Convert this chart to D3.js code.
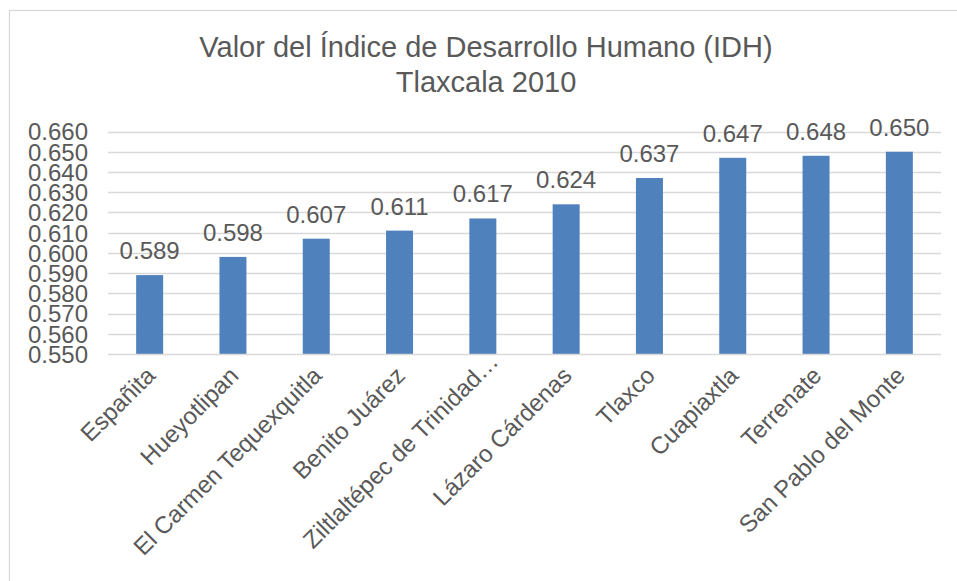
<!DOCTYPE html>
<html>
<head>
<meta charset="utf-8">
<script src="https://cdn.jsdelivr.net/npm/d3@7"></script>
<style>
    body { margin: 0; background: #ffffff; }
    svg text { font-family: Arial, "Liberation Sans", sans-serif; fill: #595959; }
</style>
</head>
<body>
<svg id="chart" width="957" height="581"></svg>
<script>

var titleLines = ['Valor del Índice de Desarrollo Humano (IDH)', 'Tlaxcala 2010'];

var municipios = [
    'Españita',
    'Hueyotlipan',
    'El Carmen Tequexquitla',
    'Benito Juárez',
    'Ziltlaltépec de Trinidad\u2026',
    'Lázaro Cárdenas',
    'Tlaxco',
    'Cuapiaxtla',
    'Terrenate',
    'San Pablo del Monte'
];

var idh = [0.589, 0.598, 0.607, 0.611, 0.617, 0.624, 0.637, 0.647, 0.648, 0.650];

var yTicks = [0.550, 0.560, 0.570, 0.580, 0.590, 0.600, 0.610, 0.620, 0.630, 0.640, 0.650, 0.660];

var margin = {left: 108, right: 16, top: 131.5, bottom: 227};
var width = 957, height = 581;

var svg = d3.select('#chart');

// chart border
svg.append('rect')
    .attr('x', 9.5)
    .attr('y', 10.5)
    .attr('width', 960)
    .attr('height', 600)
    .attr('fill', 'none')
    .attr('stroke', '#d9d9d9')
    .attr('stroke-width', 1.3);

var x = d3.scaleBand()
    .domain(municipios)
    .range([margin.left, width - margin.right])
    .paddingInner(0.676)
    .paddingOuter(0.338);

var y = d3.scaleLinear()
    .domain([0.550, 0.660])
    .range([height - margin.bottom, margin.top]);

// title
svg.append('text')
    .attr('x', 486)
    .attr('y', 57)
    .attr('text-anchor', 'middle')
    .style('font-size', '29px')
    .selectAll('tspan')
    .data(titleLines)
    .enter().append('tspan')
    .attr('x', 486)
    .attr('dy', function (d, i) { return i === 0 ? 0 : 35; })
    .text(function (d) { return d; });

// gridlines
svg.append('g')
    .selectAll('line')
    .data(yTicks.slice(1))
    .enter().append('line')
    .attr('x1', margin.left)
    .attr('x2', width - margin.right)
    .attr('y1', function (d) { return Math.round(y(d)) + 0.5; })
    .attr('y2', function (d) { return Math.round(y(d)) + 0.5; })
    .attr('stroke', '#d9d9d9')
    .attr('stroke-width', 1.3);

// y axis labels
var yAxis = svg.append('g')
    .attr('transform', 'translate(' + (margin.left - 20) + ',0)')
    .call(d3.axisLeft(y).tickValues(yTicks).tickFormat(d3.format('.3f')).tickSize(0).tickPadding(0));

yAxis.select('.domain').remove();
yAxis.selectAll('text')
    .style('font-size', '24px')
    .attr('dy', '0.35em');

// bars
svg.append('g')
    .selectAll('rect')
    .data(idh)
    .enter().append('rect')
    .attr('x', function (d, i) { return x(municipios[i]); })
    .attr('y', function (d) { return y(d); })
    .attr('width', x.bandwidth())
    .attr('height', function (d) { return y(0.550) - y(d); })
    .attr('fill', '#4f81bd');

// x axis line
svg.append('line')
    .attr('x1', margin.left)
    .attr('x2', width - margin.right)
    .attr('y1', Math.round(y(0.550)) + 0.5)
    .attr('y2', Math.round(y(0.550)) + 0.5)
    .attr('stroke', '#d9d9d9')
    .attr('stroke-width', 1.5);

// data labels
svg.append('g')
    .selectAll('text')
    .data(idh)
    .enter().append('text')
    .attr('x', function (d, i) { return x(municipios[i]) + x.bandwidth() / 2; })
    .attr('y', function (d) { return y(d) - 16; })
    .attr('text-anchor', 'middle')
    .style('font-size', '24px')
    .text(function (d) { return d3.format('.3f')(d); });

// category labels, rotated (truncated label sits a bit further out)
var axisY = y(0.550);
svg.append('g')
    .selectAll('text')
    .data(municipios)
    .enter().append('text')
    .attr('transform', function (d) {
        var cx = x(d) + x.bandwidth() / 2 + 7,
            cy = axisY + 23;
        if (d.slice(-1) === '\u2026') {
            cx += 10;
            cy -= 14;
        }
        return 'translate(' + cx + ',' + cy + ') rotate(-45)';
    })
    .attr('text-anchor', 'end')
    .style('font-size', '24px')
    .text(function (d) { return d; });

</script>
</body>
</html>
